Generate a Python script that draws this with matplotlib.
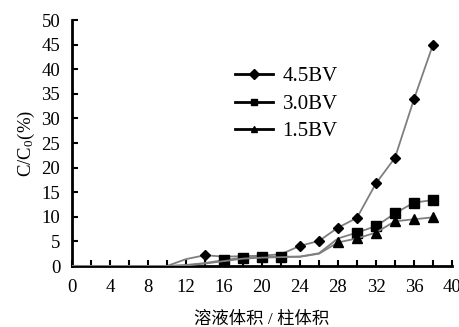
import matplotlib
matplotlib.use("Agg")
import matplotlib.pyplot as plt

plt.rcParams['font.family'] = ['Liberation Serif', 'Noto Sans CJK SC']
plt.rcParams['mathtext.fontset'] = 'stix'

# bed volumes passed (every 2 BV)
bv = [0, 2, 4, 6, 8, 10, 12, 14, 16, 18, 20, 22, 24, 26, 28, 30, 32, 34, 36, 38]

# breakthrough C/C0 (%) for each flow rate
c_45 = [0, 0, 0, 0, 0, 0, 1.4, 2.2, 1.9, 2.0, 2.1, 2.4, 4.1, 5.1, 7.8, 9.8, 16.8, 22.0, 33.9, 45.0]
c_30 = [0, 0, 0, 0, 0, 0, 0.2, 0.6, 1.2, 1.7, 1.9, 1.9, 1.9, 2.6, 5.6, 6.8, 8.1, 10.7, 12.9, 13.4]
c_15 = [0, 0, 0, 0, 0, 0, 0.1, 0.5, 1.0, 1.5, 1.7, 1.8, 1.9, 2.5, 4.8, 5.6, 6.8, 9.1, 9.5, 9.9]

labels = ['4.5BV', '3.0BV', '1.5BV']
markers = ['D', 's', '^']
mark_at = [[7, 12, 13, 14, 15, 16, 17, 18, 19],
           [8, 9, 10, 11, 15, 16, 17, 18, 19],
           [14, 15, 16, 17, 18, 19]]

fig = plt.figure(figsize=(4.6, 3.27), dpi=100)
ax = fig.add_axes([0.1565, 0.1865, 0.826, 0.752])

for ys, lab, m, idx in zip([c_45, c_30, c_15], labels, markers, mark_at):
    ax.plot(bv, ys, color='#7f7f7f', lw=1.3, marker=m, markevery=idx,
            markersize=6.5 if m != 'D' else 5.5, markerfacecolor='black',
            markeredgecolor='black', label=lab, zorder=3)

ax.set_xlim(0, 40)
ax.set_ylim(0, 50)
ax.set_xticks(range(0, 41, 4))
ax.set_xticks(range(0, 41, 2), minor=True)
ax.set_yticks(range(0, 51, 5))
ax.tick_params(axis='both', direction='in', length=4, width=1.5, labelsize=13.5)
ax.tick_params(axis='y', pad=8.5)
ax.tick_params(axis='x', pad=9)
ax.tick_params(axis='x', which='minor', direction='in', length=4, width=1.5)
for side in ['top', 'right']:
    ax.spines[side].set_visible(False)
for side in ['left', 'bottom']:
    ax.spines[side].set_linewidth(2)

ax.set_ylabel(r'C/C$_\mathregular{0}$(%)', fontsize=13.5, labelpad=3)
ax.set_xlabel('溶液体积 / 柱体积', fontsize=12.5, labelpad=11.5)

leg = ax.legend(loc='upper left', bbox_to_anchor=(0.428, 0.81), frameon=False,
                fontsize=15, handlelength=1.85, labelspacing=0.38,
                handletextpad=0.45, borderaxespad=0, borderpad=0)
for h in leg.legend_handles:
    h.set_color('black')
    h.set_linewidth(2)
    h.set_markersize(5)

fig.savefig('out.png', dpi=100)
